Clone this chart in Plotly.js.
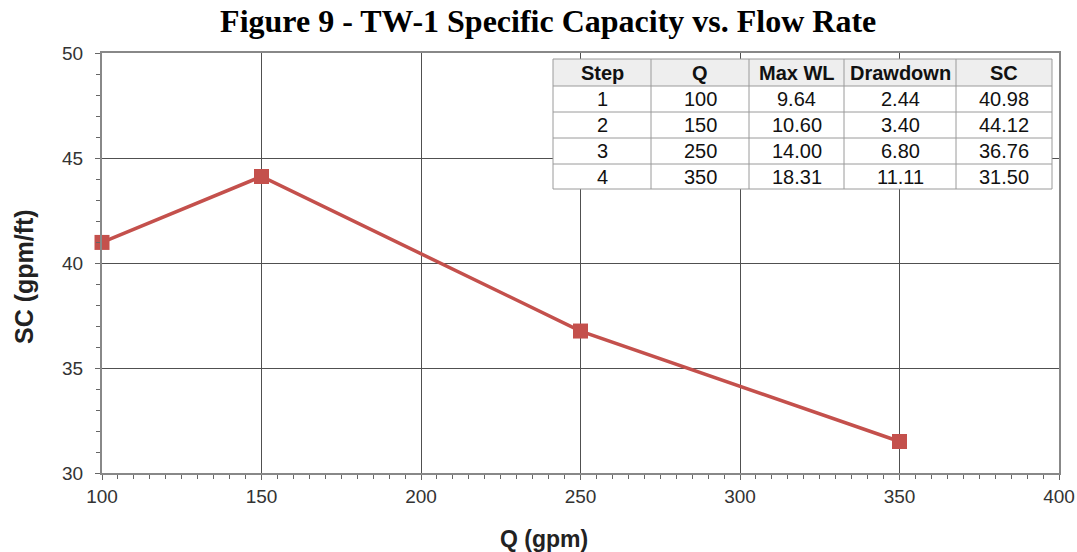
<!DOCTYPE html>
<html><head><meta charset="utf-8">
<script src="https://cdn.plot.ly/plotly-3.0.1.min.js"></script>
<style>body{margin:0;background:#fff}#c{width:1077px;height:552px}</style>
</head><body><div id="c"></div>
<script>
const steps = ['1','2','3','4'];
const flowQ = [100, 150, 250, 350];
const maxWL = ['9.64','10.60','14.00','18.31'];
const drawdown = ['2.44','3.40','6.80','11.11'];
const specCap = [40.98, 44.12, 36.76, 31.50];
const tableHeaders = ['Step','Q','Max WL','Drawdown','SC'];

// table geometry (paper fractions)
const L = 102, R = 1059, T = 53, B = 473;
const px = v => (v - L) / (R - L);
const py = v => (B - v) / (B - T);
const colEdges = [553, 651, 749, 844, 956, 1052].map(px);
const rowEdges = [59, 86, 112, 138, 164, 189].map(py);

const columns = [steps, flowQ.map(String), maxWL, drawdown, specCap.map(v => v.toFixed(2))];
const shapes = [];
const annotations = [];
shapes.push({type: 'rect', xref: 'paper', yref: 'paper', x0: colEdges[0], x1: colEdges[5],
  y0: rowEdges[5], y1: rowEdges[0], fillcolor: '#ffffff', line: {width: 0}, layer: 'above'});
shapes.push({type: 'rect', xref: 'paper', yref: 'paper', x0: colEdges[0], x1: colEdges[5],
  y0: rowEdges[1], y1: rowEdges[0], fillcolor: '#eeeeee', line: {width: 0}, layer: 'above'});
rowEdges.forEach(y => shapes.push({type: 'line', xref: 'paper', yref: 'paper',
  x0: colEdges[0], x1: colEdges[5], y0: y, y1: y, line: {color: '#9a9a9a', width: 1}, layer: 'above'}));
colEdges.forEach(x => shapes.push({type: 'line', xref: 'paper', yref: 'paper',
  x0: x, x1: x, y0: rowEdges[5], y1: rowEdges[0], line: {color: '#9a9a9a', width: 1}, layer: 'above'}));
tableHeaders.forEach((h, c) => annotations.push({xref: 'paper', yref: 'paper',
  x: (colEdges[c] + colEdges[c + 1]) / 2, y: (rowEdges[0] + rowEdges[1]) / 2,
  text: '<b>' + h + '</b>', showarrow: false, xanchor: 'center', yanchor: 'middle',
  font: {size: 20, color: '#111'}}));
columns.forEach((col, c) => col.forEach((v, r) => annotations.push({xref: 'paper', yref: 'paper',
  x: (colEdges[c] + colEdges[c + 1]) / 2, y: (rowEdges[r + 1] + rowEdges[r + 2]) / 2,
  text: v, showarrow: false, xanchor: 'center', yanchor: 'middle',
  font: {size: 20, color: '#111'}})));

// axis titles placed as in the reference
annotations.push({xref: 'paper', yref: 'paper', x: px(544), y: py(539), text: '<b>Q (gpm)</b>',
  showarrow: false, xanchor: 'center', yanchor: 'middle', font: {size: 23, color: '#222'}});
annotations.push({xref: 'paper', yref: 'paper', x: px(24), y: py(277), text: '<b>SC (gpm/ft)</b>',
  textangle: -90, showarrow: false, xanchor: 'center', yanchor: 'middle', font: {size: 25, color: '#222'}});

const line = {
  type: 'scatter', mode: 'lines+markers', x: flowQ, y: specCap,
  line: {color: '#c4504c', width: 3.5},
  marker: {symbol: 'square', size: 15, color: '#c4504c'},
  cliponaxis: false, showlegend: false, hoverinfo: 'skip'
};
const layout = {
  width: 1077, height: 552,
  margin: {l: L, r: 1077 - R, t: T, b: 552 - B},
  paper_bgcolor: '#fff', plot_bgcolor: '#fff',
  font: {family: 'Liberation Sans, Arial', color: '#333'},
  title: {text: '<b>Figure 9 - TW-1 Specific Capacity vs. Flow Rate</b>',
    font: {family: 'Liberation Serif, Times New Roman', size: 32, color: '#000'},
    x: 0.509, xanchor: 'center', y: 0.962, yanchor: 'middle'},
  xaxis: {
    range: [100, 400], dtick: 50, tick0: 100,
    showgrid: true, gridcolor: '#505050', gridwidth: 1,
    showline: true, linecolor: '#888', linewidth: 2, mirror: true,
    ticks: 'outside', ticklen: 5, tickcolor: '#666', tickwidth: 1,
    minor: {dtick: 5, ticks: 'outside', ticklen: 4, tickcolor: '#666', showgrid: false},
    tickfont: {size: 19, color: '#333'},
    zeroline: false
  },
  yaxis: {
    range: [30, 50], dtick: 5,
    showgrid: true, gridcolor: '#505050', gridwidth: 1,
    showline: true, linecolor: '#888', linewidth: 2, mirror: true,
    ticks: 'outside', ticklen: 5, tickcolor: '#666', tickwidth: 1,
    minor: {dtick: 1, ticks: 'outside', ticklen: 4, tickcolor: '#666', showgrid: false},
    tickfont: {size: 19, color: '#333'},
    ticklabelstandoff: 8,
    zeroline: false
  },
  shapes: shapes,
  annotations: annotations
};
Plotly.newPlot('c', [line], layout, {displayModeBar: false, staticPlot: true});
</script></body></html>
